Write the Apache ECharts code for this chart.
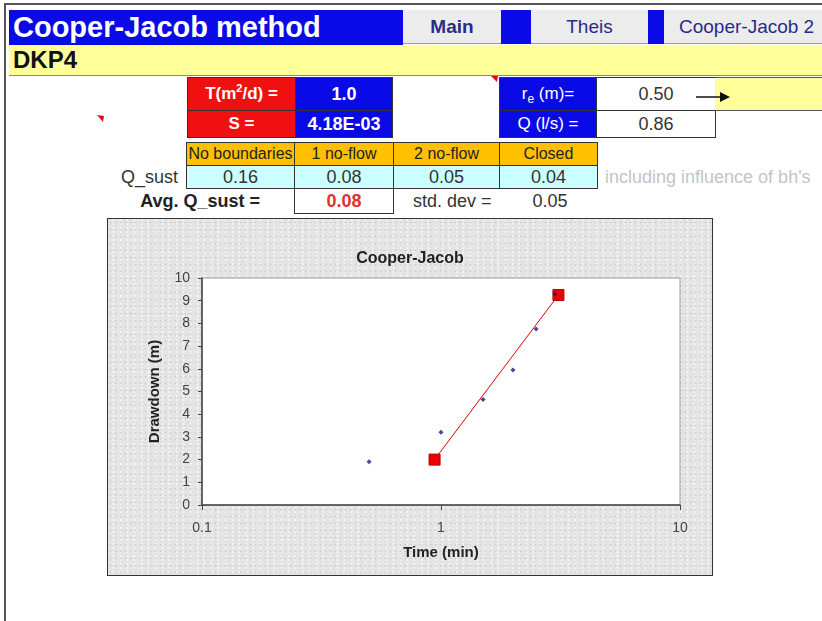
<!DOCTYPE html>
<html>
<head>
<meta charset="utf-8">
<script src="https://cdn.jsdelivr.net/npm/echarts@6/dist/echarts.min.js"></script>
<style>
  html, body { margin:0; padding:0; background:#fff; }
  body { width:822px; height:621px; position:relative; overflow:hidden; font-family:"Liberation Sans", Arial, sans-serif; }
  .c { position:absolute; box-sizing:border-box; display:flex; align-items:center; justify-content:center; white-space:nowrap; }
  sup { font-size:11px; vertical-align:super; line-height:0; }
  sub { font-size:12px; vertical-align:sub; line-height:0; }
  #chartBox { position:absolute; left:107px; top:218px; width:606px; height:358px; box-sizing:border-box; border:1px solid #333;
    background-color:#e4e4e4;
    background-image: radial-gradient(circle, #c9c9c9 0.7px, transparent 1.1px), radial-gradient(circle, #f6f6f6 0.8px, transparent 1.3px), radial-gradient(circle, #d2d2d2 0.6px, transparent 1px);
    background-size: 5px 7px, 7px 4px, 9px 11px; background-position: 0 0, 2px 3px, 4px 1px; }
  #chart { position:absolute; left:0; top:0; width:604px; height:356px; }
</style>
</head>
<body>
<div id="sheet"></div>
<div id="chartBox"><div id="chart"></div></div>
<script>
// ---- data ----
const sheetTitle = 'Cooper-Jacob method';
const wellName = 'DKP4';
const navButtons = ['Main', 'Theis', 'Cooper-Jacob 2'];
const paramLabels = ['T(m<sup>2</sup>/d) =', 'S ='];
const paramValues = ['1.0', '4.18E-03'];
const wellLabels = ['r<sub>e</sub> (m)=', 'Q (l/s) ='];
const wellValues = ['0.50', '0.86'];
const boundaryCases = ['No boundaries', '1 no-flow', '2 no-flow', 'Closed'];
const qSustValues = ['0.16', '0.08', '0.05', '0.04'];
const avgQSust = '0.08';
const stdDev = '0.05';
const noteText = "including influence of bh's";

const timeMin = [0.5, 1.0, 1.5, 2.0, 2.5, 3.0];
const drawdownM = [1.9, 3.2, 4.65, 5.95, 7.75, 9.3];
const fitTime = [0.94, 3.1];
const fitDrawdown = [2.0, 9.25];
const xTicks = [0.1, 1, 10];

// ---- spreadsheet ----
const sheet = document.getElementById('sheet');
function cell(x, y, w, h, html, css) {
  const d = document.createElement('div');
  d.className = 'c';
  d.style.left = x + 'px'; d.style.top = y + 'px';
  d.style.width = w + 'px'; d.style.height = h + 'px';
  d.innerHTML = html ? '<span>' + html + '</span>' : '';
  Object.assign(d.style, css || {});
  sheet.appendChild(d);
  return d;
}
// outer frame
cell(4, 3, 830, 640, '', {borderTop:'2px solid #555', borderLeft:'2px solid #555'});
// title bar
cell(9, 10, 394, 35, sheetTitle, {background:'#0a0ae6', color:'#fff', fontWeight:'bold', fontSize:'29px', justifyContent:'flex-start', paddingLeft:'4px'});
// nav
cell(403, 10, 98, 34, navButtons[0], {background:'#ececec', color:'#2a2a8a', fontWeight:'bold', fontSize:'19px', borderBottom:'1px solid #999'});
cell(501, 10, 30, 34, '', {background:'#0a0ae6'});
cell(531, 10, 117, 34, navButtons[1], {background:'#ececec', color:'#2a2a8a', fontSize:'19px', borderBottom:'1px solid #999'});
cell(648, 10, 16, 34, '', {background:'#0a0ae6'});
cell(664, 10, 170, 34, navButtons[2], {background:'#ececec', color:'#2a2a8a', fontSize:'19px', justifyContent:'flex-start', paddingLeft:'15px', borderBottom:'1px solid #999'});
// yellow row
cell(9, 45, 830, 31, wellName, {background:'#ffff99', color:'#111', fontWeight:'bold', fontSize:'24px', justifyContent:'flex-start', paddingLeft:'4px', borderBottom:'1px solid #888'});
// params
const rowY = [77, 110], rowH = [34, 28];
for (let i = 0; i < 2; i++) {
  cell(187, rowY[i], 109, rowH[i], paramLabels[i], {background:'#f01010', color:'#fff', fontWeight:'bold', fontSize:'17px', border:'1px solid #333'});
  cell(295, rowY[i], 98, rowH[i], paramValues[i], {background:'#0a0ae6', color:'#fff', fontWeight:'bold', fontSize:'18px', border:'1px solid #333'});
  cell(499, rowY[i], 98, rowH[i], wellLabels[i], {background:'#0a0ae6', color:'#fff', fontSize:'17px', border:'1px solid #333'});
  cell(596, rowY[i], 120, rowH[i], wellValues[i], {background:'#fff', color:'#333', fontSize:'18px', border:'1px solid #333'});
}
cell(715, 77, 120, 34, '', {background:'#ffff99', borderTop:'1px solid #555', borderBottom:'1px solid #555'});
// boundaries table
const colX = [186, 294, 393, 499, 597];
for (let i = 0; i < 4; i++) {
  cell(colX[i], 142, colX[i+1]-colX[i]+1, 24, boundaryCases[i], {background:'#ffc000', color:'#222', fontSize:'16px', border:'1px solid #333'});
  cell(colX[i], 165, colX[i+1]-colX[i]+1, 24, qSustValues[i], {background:'#ccffff', color:'#333', fontSize:'18px', border:'1px solid #333'});
}
cell(90, 165, 88, 24, 'Q_sust', {color:'#333', fontSize:'18px', justifyContent:'flex-end'});
cell(605, 165, 217, 24, noteText, {color:'#c4c4c4', fontSize:'18px', justifyContent:'flex-start'});
cell(110, 189, 150, 24, 'Avg. Q_sust =', {color:'#222', fontSize:'18px', fontWeight:'bold', justifyContent:'flex-end'});
cell(294, 188, 100, 26, avgQSust, {color:'#e03030', fontSize:'18px', fontWeight:'bold', border:'1px solid #333'});
cell(405, 189, 100, 24, 'std. dev =', {color:'#333', fontSize:'18px', justifyContent:'flex-start', paddingLeft:'8px'});
cell(510, 189, 80, 24, stdDev, {color:'#333', fontSize:'18px'});
// arrow + comment markers
const svgNS = 'http://www.w3.org/2000/svg';
const svg = document.createElementNS(svgNS, 'svg');
svg.setAttribute('width', '822'); svg.setAttribute('height', '621');
svg.style.position = 'absolute'; svg.style.left = '0'; svg.style.top = '0'; svg.style.pointerEvents = 'none';
svg.innerHTML = '<line x1="696" y1="97" x2="722" y2="97" stroke="#111" stroke-width="1.5"/>' +
  '<polygon points="720,92 730,97 720,102" fill="#111"/>' +
  '<polygon points="97,115 104,116 103,122" fill="#e01010"/>' +
  '<polygon points="491,76 498,76 497,82" fill="#e01010"/>';
document.body.appendChild(svg);

// ---- chart ----
const chart = echarts.init(document.getElementById('chart'), null, {renderer:'canvas'});
const font = 'Liberation Sans';
chart.setOption({
  animation: false,
  backgroundColor: 'transparent',
  title: { text: 'Cooper-Jacob', left: 'center', top: 27,
    textStyle: { fontFamily: font, fontWeight: 'bold', fontSize: 16, color: '#222' } },
  grid: { left: 94, top: 59, right: 32, bottom: 70, show: true, backgroundColor: '#fff', borderColor: '#999', borderWidth: 1 },
  xAxis: {
    type: 'log', logBase: 10, min: xTicks[0], max: xTicks[xTicks.length-1],
    name: 'Time (min)', nameLocation: 'middle', nameGap: 40,
    nameTextStyle: { fontFamily: font, fontWeight: 'bold', fontSize: 15, color: '#222' },
    axisLine: { onZero: false, lineStyle: { color: '#444', width: 1.5 } },
    axisTick: { show: true, length: 5, lineStyle: { color: '#444' } },
    minorTick: { show: false }, splitLine: { show: false }, minorSplitLine: { show: false },
    axisLabel: { margin: 16, color: '#444', fontFamily: font, fontSize: 14, formatter: v => String(+(+v).toPrecision(3)) }
  },
  yAxis: {
    type: 'value', min: 0, max: 10, interval: 1,
    name: 'Drawdown (m)', nameLocation: 'middle', nameGap: 40, nameRotate: 90,
    nameTextStyle: { fontFamily: font, fontWeight: 'bold', fontSize: 15, color: '#222' },
    axisLine: { show: true, lineStyle: { color: '#444', width: 1.5 } },
    axisTick: { show: true, length: 4, lineStyle: { color: '#444' } },
    splitLine: { show: false },
    axisLabel: { margin: 12, color: '#444', fontFamily: font, fontSize: 14 }
  },
  series: [
    { type: 'line', data: fitTime.map((t, i) => [t, fitDrawdown[i]]), z: 2,
      lineStyle: { color: '#e00000', width: 1 }, symbol: 'rect', symbolSize: 11,
      itemStyle: { color: '#ee0000', borderColor: '#b00000', borderWidth: 1 } },
    { type: 'scatter', data: timeMin.map((t, i) => [t, drawdownM[i]]), z: 3,
      symbol: 'diamond', symbolSize: 5, itemStyle: { color: '#1a1a80' } }
  ]
});
</script>
</body>
</html>
